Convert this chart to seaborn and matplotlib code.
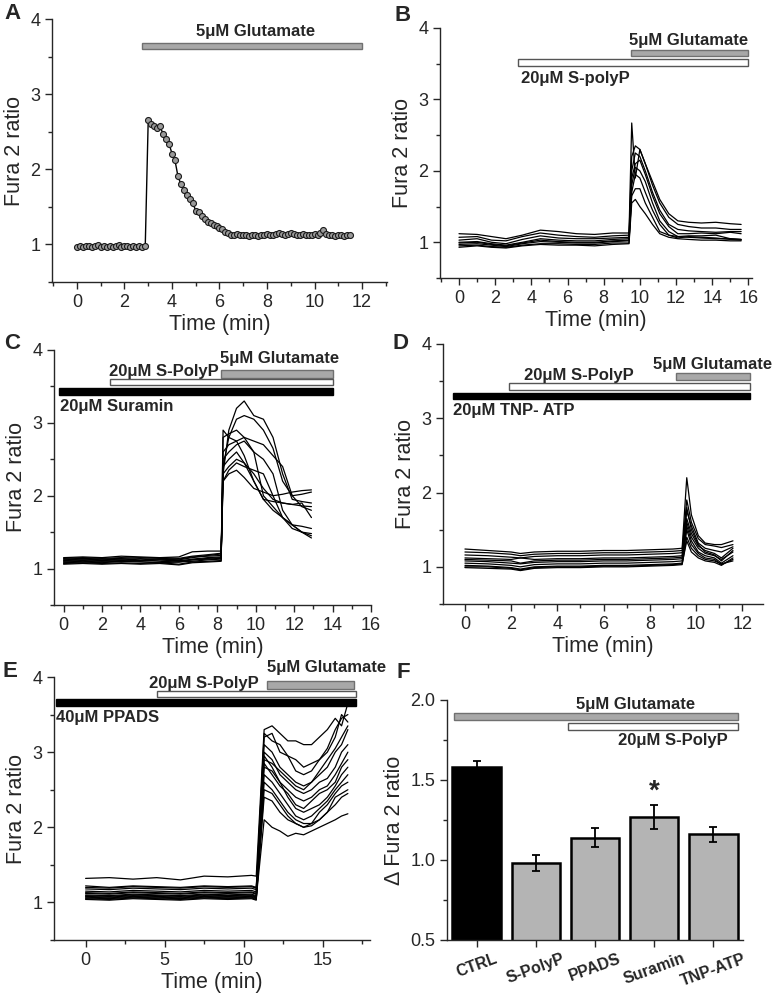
"""Fura-2 calcium imaging panels A-F."""

import matplotlib

matplotlib.use("Agg")
import matplotlib.pyplot as plt
import numpy as np
import pandas as pd
import seaborn as sns
from matplotlib.patches import Rectangle
from matplotlib.ticker import MultipleLocator

# ---------------- data ----------------
# Panel A: single cell, sampled every 0.125 min starting at t=0
A_T0, A_DT = 0.0, 0.125
a_ratio = [
    0.97, 0.98, 0.97, 0.98, 0.98, 0.97, 0.98, 0.99, 0.97, 0.98, 0.96, 0.98,
    0.97, 0.98, 0.99, 0.97, 0.98, 0.98, 0.97, 0.98, 0.97, 0.98, 0.97, 0.98,
    2.66, 2.60, 2.58, 2.55, 2.57, 2.47, 2.40, 2.34, 2.21, 2.12, 1.91, 1.80,
    1.73, 1.66, 1.60, 1.55, 1.45, 1.43, 1.38, 1.34, 1.30, 1.28, 1.26, 1.24,
    1.22, 1.20, 1.17, 1.15, 1.12, 1.13,
    1.14, 1.12, 1.13, 1.12, 1.11, 1.13, 1.12, 1.11, 1.13, 1.12, 1.14, 1.13,
    1.12, 1.14, 1.15, 1.14, 1.13, 1.14, 1.15, 1.14, 1.13, 1.12, 1.14, 1.13,
    1.12, 1.13, 1.14, 1.13, 1.15, 1.19, 1.14, 1.12, 1.13, 1.11, 1.12, 1.13,
    1.11, 1.12, 1.12,
]

# Panel B: S-polyP then glutamate
b_time = [0, 1, 1.8, 2.6, 3.5, 4.5, 5.5, 6.5, 7.5, 8.5, 9.4, 9.55, 9.75, 10.0,
          10.3, 10.7, 11.1, 11.6, 12.1, 12.7, 13.4, 14.2, 15.0, 15.6]
b_traces = [
    [1.12, 1.11, 1.08, 1.05, 1.10, 1.17, 1.15, 1.12, 1.11, 1.13, 1.13, 2.67,
     1.90, 2.30, 2.10, 1.85, 1.60, 1.40, 1.30, 1.28, 1.27, 1.28, 1.26, 1.25],
    [1.07, 1.08, 1.03, 1.02, 1.08, 1.13, 1.10, 1.08, 1.07, 1.09, 1.10, 2.20,
     2.35, 2.30, 2.10, 1.80, 1.55, 1.35, 1.25, 1.22, 1.20, 1.20, 1.18, 1.18],
    [1.03, 1.05, 1.00, 0.98, 1.04, 1.09, 1.06, 1.05, 1.05, 1.06, 1.07, 2.00,
     2.25, 2.20, 2.00, 1.70, 1.45, 1.25, 1.18, 1.16, 1.15, 1.14, 1.15, 1.15],
    [1.00, 1.01, 0.98, 0.96, 1.00, 1.05, 1.03, 1.02, 1.02, 1.04, 1.05, 1.90,
     2.10, 2.15, 1.95, 1.65, 1.40, 1.22, 1.12, 1.12, 1.13, 1.12, 1.14, 1.12],
    [0.97, 0.98, 0.96, 0.94, 0.98, 1.01, 1.00, 0.99, 0.99, 1.01, 1.02, 1.80,
     2.05, 2.00, 1.85, 1.55, 1.30, 1.15, 1.08, 1.07, 1.06, 1.05, 1.05, 1.04],
    [0.95, 0.96, 0.94, 0.93, 0.96, 0.98, 0.98, 0.97, 0.97, 0.99, 0.99, 1.70,
     1.95, 1.90, 1.70, 1.45, 1.25, 1.10, 1.06, 1.08, 1.07, 1.06, 1.04, 1.03],
    [0.99, 1.00, 0.97, 0.95, 0.99, 1.03, 1.01, 1.00, 1.00, 1.02, 1.03, 1.65,
     1.75, 1.75, 1.55, 1.35, 1.15, 1.10, 1.08, 1.09, 1.09, 1.10, 1.05, 1.04],
    [0.93, 0.95, 0.93, 0.92, 0.95, 0.97, 0.96, 0.96, 0.95, 0.97, 0.98, 1.55,
     1.60, 1.50, 1.40, 1.25, 1.12, 1.07, 1.05, 1.04, 1.03, 1.03, 1.02, 1.02],
]

# Panel C: Suramin pre-treatment
c_time = [0, 1, 2, 3, 4, 5, 6, 6.7, 7.5, 8.2, 8.3, 8.6, 9.0, 9.4, 9.9, 10.4,
          10.9, 11.4, 11.9, 12.4, 12.9]
c_traces = [
    [1.15, 1.16, 1.15, 1.17, 1.16, 1.15, 1.16, 1.23, 1.24, 1.24, 2.30, 2.90,
     3.20, 3.30, 3.10, 3.05, 2.80, 2.30, 1.95, 1.92, 1.90],
    [1.12, 1.13, 1.12, 1.13, 1.12, 1.13, 1.12, 1.15, 1.18, 1.20, 2.40, 2.80,
     3.05, 3.10, 3.05, 2.90, 2.65, 2.20, 2.00, 2.02, 2.05],
    [1.10, 1.11, 1.10, 1.11, 1.10, 1.12, 1.11, 1.12, 1.14, 1.15, 2.90, 2.80,
     2.75, 2.55, 2.20, 1.95, 1.92, 1.90, 1.88, 1.86, 1.85],
    [1.08, 1.09, 1.08, 1.10, 1.09, 1.08, 1.09, 1.10, 1.12, 1.13, 2.80, 2.85,
     2.90, 2.80, 2.60, 2.00, 1.85, 1.70, 1.60, 1.50, 1.45],
    [1.07, 1.08, 1.07, 1.08, 1.07, 1.08, 1.06, 1.09, 1.10, 1.11, 2.50, 2.60,
     2.70, 2.75, 2.60, 2.50, 2.30, 1.80, 1.60, 1.50, 1.42],
    [1.13, 1.14, 1.13, 1.14, 1.15, 1.14, 1.13, 1.16, 1.17, 1.18, 2.30, 2.40,
     2.50, 2.45, 2.30, 2.10, 1.95, 1.90, 1.88, 1.90, 1.70],
    [1.09, 1.10, 1.09, 1.10, 1.11, 1.10, 1.09, 1.12, 1.13, 1.14, 2.40, 2.50,
     2.60, 2.45, 2.20, 1.95, 1.80, 1.70, 1.60, 1.58, 1.55],
    [1.11, 1.12, 1.11, 1.12, 1.11, 1.12, 1.10, 1.13, 1.15, 1.16, 2.20, 2.30,
     2.35, 2.25, 2.10, 2.05, 2.00, 2.02, 2.05, 2.07, 2.08],
    [1.06, 1.07, 1.06, 1.07, 1.06, 1.07, 1.05, 1.08, 1.09, 1.10, 2.60, 2.70,
     2.75, 2.80, 2.75, 2.70, 2.55, 2.40, 2.00, 1.85, 1.80],
    [1.14, 1.15, 1.14, 1.15, 1.14, 1.15, 1.14, 1.17, 1.19, 1.21, 2.20, 2.35,
     2.45, 2.40, 2.35, 2.30, 2.00, 1.70, 1.55, 1.50, 1.48],
]

# Panel D: TNP-ATP pre-treatment
d_time = [0, 1, 2, 2.4, 3, 4, 5, 6, 7, 8, 9, 9.4, 9.6, 9.8, 10.1, 10.4, 10.8,
          11.1, 11.6]
d_traces = [
    [1.24, 1.22, 1.20, 1.18, 1.20, 1.21, 1.21, 1.22, 1.22, 1.23, 1.24, 1.25,
     2.20, 1.70, 1.42, 1.32, 1.30, 1.30, 1.35],
    [1.20, 1.19, 1.17, 1.15, 1.17, 1.18, 1.18, 1.19, 1.19, 1.20, 1.21, 1.22,
     1.90, 1.60, 1.38, 1.30, 1.28, 1.26, 1.30],
    [1.16, 1.15, 1.13, 1.12, 1.14, 1.15, 1.15, 1.16, 1.16, 1.17, 1.18, 1.19,
     1.75, 1.55, 1.32, 1.25, 1.22, 1.20, 1.27],
    [1.12, 1.11, 1.10, 1.12, 1.10, 1.11, 1.11, 1.12, 1.12, 1.13, 1.14, 1.15,
     1.65, 1.45, 1.28, 1.22, 1.18, 1.12, 1.25],
    [1.08, 1.07, 1.05, 1.04, 1.06, 1.07, 1.07, 1.08, 1.08, 1.09, 1.10, 1.11,
     1.60, 1.40, 1.25, 1.18, 1.15, 1.10, 1.20],
    [1.05, 1.04, 1.02, 1.00, 1.03, 1.04, 1.04, 1.05, 1.05, 1.06, 1.07, 1.08,
     1.55, 1.35, 1.20, 1.15, 1.12, 1.05, 1.15],
    [1.02, 1.01, 0.99, 0.97, 1.00, 1.01, 1.01, 1.02, 1.02, 1.03, 1.04, 1.05,
     1.50, 1.30, 1.18, 1.12, 1.10, 1.03, 1.10],
    [0.99, 0.98, 0.97, 0.95, 0.98, 0.99, 0.99, 1.00, 1.00, 1.01, 1.02, 1.03,
     1.40, 1.25, 1.15, 1.10, 1.08, 1.04, 1.08],
    [1.10, 1.09, 1.08, 1.05, 1.08, 1.09, 1.09, 1.10, 1.10, 1.11, 1.12, 1.13,
     1.80, 1.50, 1.30, 1.20, 1.16, 1.08, 1.22],
    [1.00, 1.00, 0.98, 0.96, 0.99, 1.00, 1.00, 1.01, 1.01, 1.02, 1.03, 1.04,
     1.35, 1.20, 1.12, 1.08, 1.06, 1.02, 1.12],
]

# Panel E: PPADS pre-treatment
e_time = [0, 1.5, 3, 4.5, 6, 7.5, 9, 10.5, 10.8, 11.3, 11.8, 12.3, 12.8, 13.3,
          13.8, 14.3, 14.8, 15.3, 15.8, 16.2, 16.6]
e_traces = [
    [1.32, 1.33, 1.31, 1.33, 1.30, 1.35, 1.34, 1.36, 1.35, 3.30, 3.35, 3.25,
     3.15, 3.15, 3.10, 3.10, 3.20, 3.30, 3.45, 3.35, 3.65],
    [1.22, 1.20, 1.22, 1.21, 1.20, 1.22, 1.21, 1.22, 1.20, 3.20, 3.25, 3.00,
     2.95, 2.90, 2.80, 2.85, 2.90, 3.00, 3.20, 3.50, 3.40],
    [1.18, 1.17, 1.19, 1.18, 1.17, 1.19, 1.18, 1.19, 1.17, 3.10, 3.00, 2.80,
     2.70, 2.60, 2.55, 2.60, 2.70, 2.80, 3.00, 3.10, 3.30],
    [1.15, 1.14, 1.16, 1.15, 1.14, 1.16, 1.15, 1.16, 1.14, 3.00, 2.90, 2.70,
     2.60, 2.50, 2.45, 2.50, 2.60, 2.65, 2.80, 3.00, 3.10],
    [1.12, 1.11, 1.13, 1.12, 1.11, 1.13, 1.12, 1.13, 1.11, 2.95, 2.80, 2.60,
     2.50, 2.40, 2.35, 2.40, 2.50, 2.55, 2.70, 2.85, 3.00],
    [1.10, 1.09, 1.11, 1.10, 1.09, 1.11, 1.10, 1.11, 1.09, 2.85, 2.70, 2.55,
     2.45, 2.30, 2.25, 2.35, 2.45, 2.50, 2.60, 2.80, 2.90],
    [1.08, 1.07, 1.09, 1.08, 1.07, 1.09, 1.08, 1.09, 1.07, 2.80, 2.75, 2.60,
     2.40, 2.25, 2.20, 2.25, 2.30, 2.40, 2.55, 2.70, 2.80],
    [1.06, 1.05, 1.07, 1.06, 1.05, 1.07, 1.06, 1.07, 1.05, 2.70, 2.60, 2.45,
     2.30, 2.15, 2.10, 2.15, 2.25, 2.35, 2.50, 2.60, 2.70],
    [1.05, 1.04, 1.06, 1.05, 1.04, 1.06, 1.05, 1.06, 1.04, 2.60, 2.50, 2.35,
     2.20, 2.10, 2.05, 2.05, 2.10, 2.20, 2.40, 2.45, 2.50],
    [1.04, 1.03, 1.05, 1.04, 1.03, 1.05, 1.04, 1.05, 1.03, 2.50, 2.45, 2.30,
     2.15, 2.05, 2.00, 2.02, 2.10, 2.20, 2.30, 2.40, 2.45],
    [1.20, 1.19, 1.21, 1.20, 1.19, 1.21, 1.20, 1.21, 1.19, 2.90, 2.85, 2.75,
     2.65, 2.55, 2.50, 2.60, 2.75, 2.90, 3.05, 3.20, 3.35],
    [1.07, 1.06, 1.08, 1.07, 1.06, 1.08, 1.07, 1.08, 1.06, 2.10, 2.00, 1.95,
     1.88, 1.92, 1.90, 1.95, 2.00, 2.05, 2.10, 2.15, 2.18],
    [1.13, 1.12, 1.14, 1.13, 1.12, 1.14, 1.13, 1.14, 1.12, 3.25, 3.15, 3.10,
     2.95, 2.75, 2.70, 2.75, 2.90, 3.05, 3.30, 3.45, 3.50],
    [1.09, 1.08, 1.10, 1.09, 1.08, 1.10, 1.09, 1.10, 1.08, 2.40, 2.35, 2.20,
     2.10, 2.05, 2.00, 2.05, 2.20, 2.30, 2.45, 2.55, 2.60],
]

# Panel F: summary
f_groups = ["CTRL", "S-PolyP", "PPADS", "Suramin", "TNP-ATP"]
f_delta = [1.58, 0.98, 1.14, 1.27, 1.16]
f_sem = [0.04, 0.05, 0.06, 0.075, 0.045]
f_colors = ["black", "#b4b4b4", "#b4b4b4", "#b4b4b4", "#b4b4b4"]

# ---------------- style ----------------
sns.set_style("ticks")
plt.rcParams["font.family"] = ["Liberation Sans", "DejaVu Sans"]
plt.rcParams["axes.linewidth"] = 1.0

W, H = 775, 994
GLU = ("#a8a8a8", "#707070")
POLYP = ("white", "#555555")
BLOCK = ("black", "black")
LAB = 12


def axes_px(fig, left, top, right, bottom):
    return fig.add_axes([left / W, 1 - bottom / H, (right - left) / W, (bottom - top) / H])


def traces_frame(times, traces):
    rows = []
    for i, tr in enumerate(traces):
        for t, v in zip(times, tr):
            rows.append((i, t, v))
    return pd.DataFrame(rows, columns=["trace", "time", "ratio"])


def drug_bar(ax, start, end, y0, y1, colors):
    ax.add_patch(Rectangle((start, y0), end - start, y1 - y0, facecolor=colors[0],
                           edgecolor=colors[1], lw=1, clip_on=False, zorder=3))


def style_axes(ax, xlim, xmajor, xminor, ylim=(0.5, 4), ymajor=1, yminor=0.5):
    sns.despine(ax=ax)
    ax.set_xlim(*xlim)
    ax.set_ylim(*ylim)
    ax.xaxis.set_major_locator(MultipleLocator(xmajor))
    ax.xaxis.set_minor_locator(MultipleLocator(xminor))
    ax.yaxis.set_major_locator(MultipleLocator(ymajor))
    ax.yaxis.set_minor_locator(MultipleLocator(yminor))
    ax.tick_params(which="major", length=5, width=1, labelsize=13, direction="out")
    ax.tick_params(which="minor", length=3, width=1, direction="out")
    ax.set_ylabel("Fura 2 ratio", fontsize=15.5)
    ax.set_xlabel("Time (min)", fontsize=15.5, labelpad=2)


def trace_plot(ax, times, traces):
    df = traces_frame(times, traces)
    sns.lineplot(data=df, x="time", y="ratio", units="trace", estimator=None,
                 color="black", lw=0.9, ax=ax, legend=False)


fig = plt.figure(figsize=(W / 100, H / 100), dpi=100)

# ---- A ----
ax = axes_px(fig, 52, 19, 387, 282)
a_time = A_T0 + A_DT * np.arange(len(a_ratio))
sns.lineplot(x=a_time, y=a_ratio, ax=ax, color="black", lw=1, marker="o",
             markersize=4.3, markerfacecolor="#9a9a9a", markeredgecolor="#1a1a1a",
             markeredgewidth=0.8)
style_axes(ax, (-1.05, 13.05), 2, 1)
ax.set_yticks([1, 2, 3, 4])
drug_bar(ax, 2.75, 12.0, 3.60, 3.68, GLU)
ax.text(7.5, 3.83, "5\u03bcM Glutamate", ha="center", va="center", fontsize=LAB, weight="bold")

# ---- B ----
ax = axes_px(fig, 440, 28, 752, 278)
trace_plot(ax, b_time, b_traces)
style_axes(ax, (-1.05, 16.2), 2, 1)
ax.set_yticks([1, 2, 3, 4])
drug_bar(ax, 9.5, 16.0, 3.61, 3.69, GLU)
drug_bar(ax, 3.25, 16.0, 3.47, 3.57, POLYP)
ax.text(16.0, 3.83, "5\u03bcM Glutamate", ha="right", va="center", fontsize=LAB, weight="bold")
ax.text(3.45, 3.30, "20\u03bcM S-polyP", ha="left", va="center", fontsize=LAB, weight="bold")

# ---- C ----
ax = axes_px(fig, 54, 350, 371, 605)
trace_plot(ax, c_time, c_traces)
style_axes(ax, (-0.5, 16), 2, 1)
ax.set_yticks([1, 2, 3, 4])
drug_bar(ax, 8.2, 14.0, 3.62, 3.72, GLU)
drug_bar(ax, 2.4, 14.0, 3.52, 3.60, POLYP)
drug_bar(ax, -0.25, 14.0, 3.38, 3.48, BLOCK)
ax.text(8.1, 3.71, "20\u03bcM S-PolyP", ha="right", va="center", fontsize=LAB, weight="bold")
ax.text(8.15, 3.88, "5\u03bcM Glutamate", ha="left", va="center", fontsize=LAB, weight="bold")
ax.text(-0.2, 3.23, "20\u03bcM Suramin", ha="left", va="center", fontsize=LAB, weight="bold")

# ---- D ----
ax = axes_px(fig, 443, 344, 763, 604)
trace_plot(ax, d_time, d_traces)
style_axes(ax, (-0.95, 12.9), 2, 1)
ax.set_yticks([1, 2, 3, 4])
drug_bar(ax, 9.15, 12.35, 3.52, 3.61, GLU)
drug_bar(ax, 1.9, 12.35, 3.38, 3.47, POLYP)
drug_bar(ax, -0.5, 12.35, 3.26, 3.34, BLOCK)
ax.text(4.95, 3.58, "20\u03bcM S-PolyP", ha="center", va="center", fontsize=LAB, weight="bold")
ax.text(10.7, 3.72, "5\u03bcM Glutamate", ha="center", va="center", fontsize=LAB, weight="bold")
ax.text(-0.5, 3.10, "20\u03bcM TNP- ATP", ha="left", va="center", fontsize=LAB, weight="bold")

# ---- E ----
ax = axes_px(fig, 54, 677, 370, 940)
trace_plot(ax, e_time, e_traces)
style_axes(ax, (-2, 18), 5, 2.5)
ax.set_yticks([1, 2, 3, 4])
drug_bar(ax, 11.45, 17.0, 3.84, 3.95, GLU)
drug_bar(ax, 4.5, 17.1, 3.73, 3.81, POLYP)
drug_bar(ax, -1.85, 17.1, 3.61, 3.71, BLOCK)
ax.text(11.45, 4.12, "5\u03bcM Glutamate", ha="left", va="center", fontsize=LAB, weight="bold")
ax.text(10.95, 3.92, "20\u03bcM S-PolyP", ha="right", va="center", fontsize=LAB, weight="bold")
ax.text(-1.85, 3.46, "40\u03bcM PPADS", ha="left", va="center", fontsize=LAB, weight="bold")

# ---- F ----
ax = axes_px(fig, 447, 700, 743, 940)
sns.barplot(x=f_groups, y=f_delta, hue=f_groups, palette=f_colors, legend=False,
            width=0.82, edgecolor="black", linewidth=1.8, ax=ax)
ax.errorbar(x=np.arange(len(f_groups)), y=f_delta, yerr=f_sem, fmt="none",
            ecolor="black", elinewidth=1.3, capsize=3, capthick=1.3)
sns.despine(ax=ax)
ax.set_xlim(-0.5, 4.5)
ax.set_ylim(0.5, 2.0)
ax.yaxis.set_major_locator(MultipleLocator(0.5))
ax.yaxis.set_minor_locator(MultipleLocator(0.25))
ax.yaxis.set_major_formatter(matplotlib.ticker.FormatStrFormatter("%.1f"))
ax.tick_params(which="major", length=5, width=1, labelsize=13, direction="out")
ax.tick_params(which="minor", length=3, width=1, direction="out")
ax.tick_params(axis="x", labelsize=11.5, pad=3)
for lbl in ax.get_xticklabels():
    lbl.set_rotation(20)
    lbl.set_fontweight("bold")
ax.set_xlabel("")
ax.set_ylabel("\u0394 Fura 2 ratio", fontsize=15.5)
drug_bar(ax, -0.39, 4.42, 1.875, 1.92, GLU)
drug_bar(ax, 1.55, 4.42, 1.81, 1.855, POLYP)
ax.text(2.68, 1.97, "5\u03bcM Glutamate", ha="center", va="center", fontsize=LAB, weight="bold")
ax.text(4.25, 1.75, "20\u03bcM S-PolyP", ha="right", va="center", fontsize=LAB, weight="bold")
ax.text(3, 1.43, "*", ha="center", va="center", fontsize=20, weight="bold")

# ---- panel letters ----
for letter, x, y in [("A", 4, 3), ("B", 394, 5), ("C", 4, 333), ("D", 392, 333),
                     ("E", 2, 661), ("F", 397, 662)]:
    fig.text(x / W, 1 - y / H, letter, ha="left", va="top", fontsize=16, weight="bold")

fig.savefig("out.png", dpi=100)
